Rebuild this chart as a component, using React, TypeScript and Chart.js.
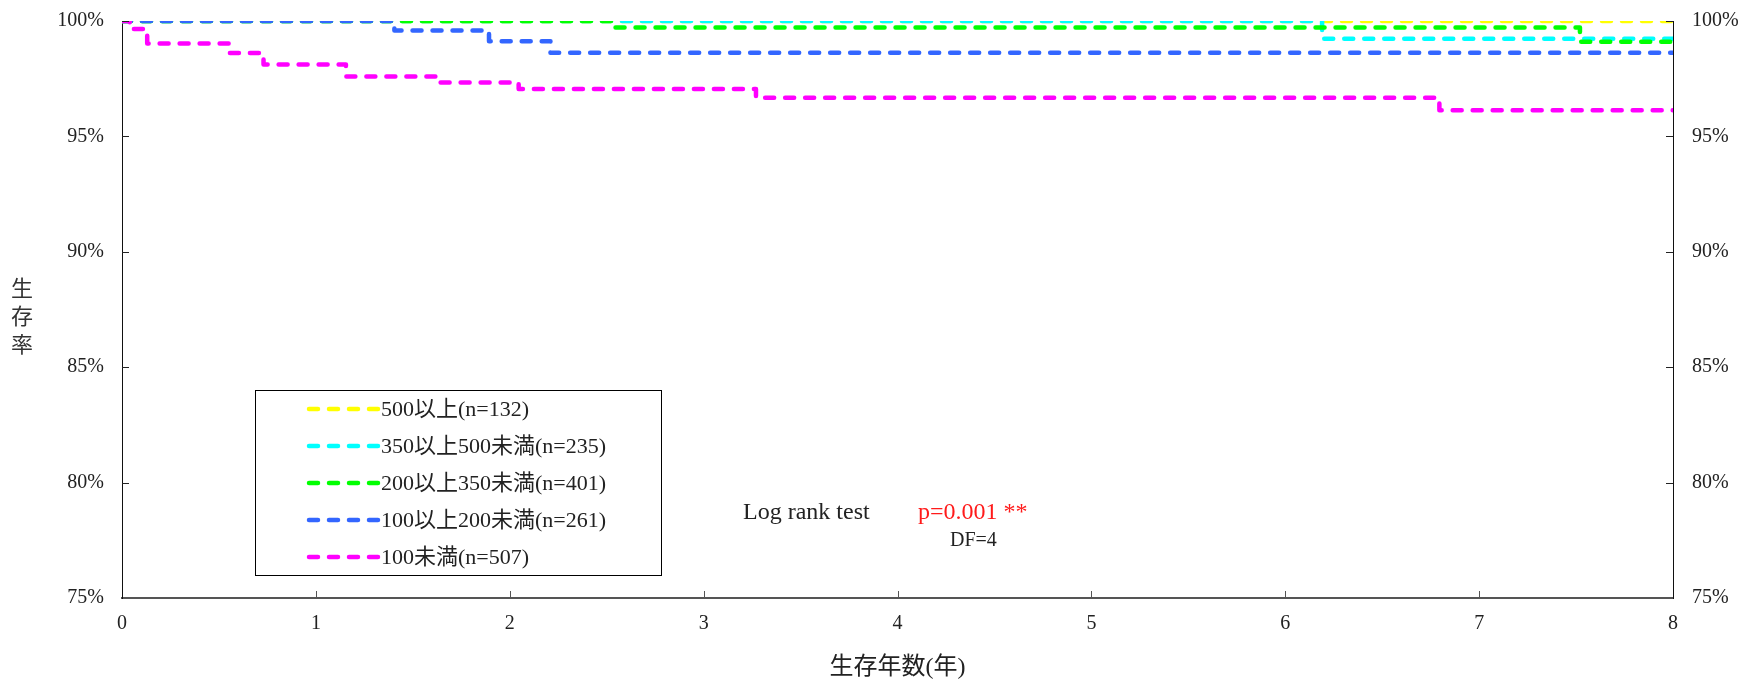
import { useEffect, useRef } from 'react';
import { Chart, registerables } from 'chart.js';

Chart.register(...registerables);

// ---- data ----
const seriesLabels = [
  '500以上(n=132)',
  '350以上500未満(n=235)',
  '200以上350未満(n=401)',
  '100以上200未満(n=261)',
  '100未満(n=507)',
];
const seriesColors = ['#FFFF00', '#00FFFF', '#00FF00', '#3366FF', '#FF00FF'];

const yellowTimes = [0, 8];
const yellowSurv = [100, 100];
const cyanTimes = [0, 6.19, 8];
const cyanSurv = [100, 99.23, 99.23];
const greenTimes = [0, 2.54, 7.52, 8];
const greenSurv = [100, 99.72, 99.1, 99.1];
const blueTimes = [0, 1.405, 1.893, 2.21, 8];
const blueSurv = [100, 99.59, 99.12, 98.62, 98.62];
const magentaTimes = [0, 0.04, 0.13, 0.551, 0.73, 1.155, 1.64, 2.046, 3.27, 6.795, 8];
const magentaSurv = [100, 99.65, 99.03, 98.61, 98.12, 97.59, 97.34, 97.05, 96.67, 96.13, 96.13];

const seriesTimes = [yellowTimes, cyanTimes, greenTimes, blueTimes, magentaTimes];
const seriesSurv = [yellowSurv, cyanSurv, greenSurv, blueSurv, magentaSurv];

const xTicks = [0, 1, 2, 3, 4, 5, 6, 7, 8];
const yTicks = [75, 80, 85, 90, 95, 100];

const xTitle = '生存年数(年)';
const yTitle = '生存率';
const testLabel = 'Log rank test';
const pLabel = 'p=0.001 **';
const dfLabel = 'DF=4';

const FONT = '"Liberation Serif", "Noto Sans CJK JP", serif';
const W = 1757;
const H = 684;

export default function App() {
  const ref = useRef<HTMLCanvasElement | null>(null);

  useEffect(() => {
    if (!ref.current) return;

    const overlay = {
      id: 'overlay',
      afterDraw(chart: any) {
        const ctx = chart.ctx;
        const { left, right, bottom } = chart.chartArea;
        const xs = chart.scales.x;
        const ys = chart.scales.y;
        ctx.save();
        // x tick marks (inward)
        ctx.strokeStyle = '#555';
        ctx.lineWidth = 1;
        xTicks.forEach((t) => {
          if (t === xTicks[0] || t === xTicks[xTicks.length - 1]) return;
          const px = Math.round(xs.getPixelForValue(t)) + 0.5;
          ctx.beginPath();
          ctx.moveTo(px, bottom);
          ctx.lineTo(px, bottom - 7);
          ctx.stroke();
        });
        // y tick marks (inward, both sides)
        ctx.strokeStyle = '#222';
        yTicks.forEach((v) => {
          if (v === yTicks[0]) return;
          const py = Math.round(ys.getPixelForValue(v)) + 0.5;
          ctx.beginPath();
          ctx.moveTo(left, py);
          ctx.lineTo(left + 7, py);
          ctx.moveTo(right, py);
          ctx.lineTo(right - 7, py);
          ctx.stroke();
        });

        // y title, vertical stacked characters
        ctx.fillStyle = '#333';
        ctx.font = `22px ${FONT}`;
        ctx.textAlign = 'center';
        ctx.textBaseline = 'middle';
        Array.from(yTitle).forEach((ch, i) => {
          ctx.fillText(ch, 22, 290 + i * 28);
        });

        // legend box
        ctx.strokeStyle = '#000';
        ctx.lineWidth = 1;
        ctx.strokeRect(255.5, 390.5, 406, 185);
        ctx.font = `22px ${FONT}`;
        ctx.textAlign = 'left';
        ctx.textBaseline = 'middle';
        seriesLabels.forEach((lab, i) => {
          const y = 409 + i * 37;
          ctx.save();
          ctx.strokeStyle = seriesColors[i];
          ctx.lineWidth = 4.5;
          ctx.lineCap = 'round';
          ctx.setLineDash([9, 11]);
          ctx.beginPath();
          ctx.moveTo(309, y);
          ctx.lineTo(378, y);
          ctx.stroke();
          ctx.restore();
          ctx.fillStyle = '#222';
          ctx.fillText(lab, 381, y + 1);
        });

        // log rank annotation
        ctx.font = `24px ${FONT}`;
        ctx.fillStyle = '#222';
        ctx.fillText(testLabel, 743, 513);
        ctx.fillStyle = '#FF1A1A';
        ctx.fillText(pLabel, 918, 513);
        ctx.font = `20px ${FONT}`;
        ctx.fillStyle = '#222';
        ctx.fillText(dfLabel, 950, 541);
        ctx.restore();
      },
    };

    const datasets = seriesLabels.map((label, i) => ({
      label,
      data: seriesTimes[i].map((t, j) => ({ x: t, y: seriesSurv[i][j] })),
      borderColor: seriesColors[i],
      backgroundColor: seriesColors[i],
      borderWidth: 4.5,
      borderDash: [9, 11],
      borderCapStyle: 'round',
      borderJoinStyle: 'round',
      stepped: 'before',
      pointRadius: 0,
      fill: false,
      clip: 0,
      order: seriesLabels.length - i,
    }));

    const tickFont = { family: FONT, size: 20 };

    const yFit = (w: number) => (s: any) => {
      s.width = w;
      s.paddingTop = 0;
      s.paddingBottom = 0;
    };

    const chart = new Chart(ref.current, {
      type: 'line',
      data: { datasets } as any,
      options: {
        animation: false,
        responsive: false,
        devicePixelRatio: 1,
        layout: { padding: { top: 21, left: 0, right: 0, bottom: 0 } },
        plugins: {
          legend: { display: false },
          tooltip: { enabled: false },
        },
        scales: {
          x: {
            type: 'linear',
            min: 0,
            max: 8,
            afterBuildTicks: (s: any) => {
              s.ticks = xTicks.map((v) => ({ value: v }));
            },
            afterFit: (s: any) => {
              s.height = H - 598;
              s.paddingLeft = 0;
              s.paddingRight = 0;
            },
            ticks: {
              font: tickFont,
              color: '#222',
              padding: 14,
              maxRotation: 0,
              callback: (v: any) => String(v),
            },
            grid: { display: false, drawTicks: false },
            border: { display: true, color: '#555', width: 2 },
            title: {
              display: true,
              text: xTitle,
              font: { family: FONT, size: 24 },
              color: '#222',
              padding: { top: 0, bottom: 2 },
            },
          },
          y: {
            position: 'left',
            min: 75,
            max: 100,
            afterBuildTicks: (s: any) => {
              s.ticks = yTicks.map((v) => ({ value: v }));
            },
            afterFit: yFit(122),
            ticks: {
              font: tickFont,
              color: '#222',
              padding: 18,
              callback: (v: any) => v + '%',
            },
            grid: { display: false, drawTicks: false },
            border: { display: true, color: '#111', width: 1 },
          },
          y2: {
            position: 'right',
            min: 75,
            max: 100,
            afterBuildTicks: (s: any) => {
              s.ticks = yTicks.map((v) => ({ value: v }));
            },
            afterFit: yFit(W - 1673),
            ticks: {
              font: tickFont,
              color: '#222',
              padding: 19,
              callback: (v: any) => v + '%',
            },
            grid: { display: false, drawTicks: false },
            border: { display: true, color: '#111', width: 1 },
          },
        },
      } as any,
      plugins: [overlay],
    });

    return () => chart.destroy();
  }, []);

  return (
    <div style={{ position: 'absolute', left: 0, top: 0, width: W, height: H, background: '#fff' }}>
      <canvas ref={ref} width={W} height={H} style={{ display: 'block' }} />
    </div>
  );
}
